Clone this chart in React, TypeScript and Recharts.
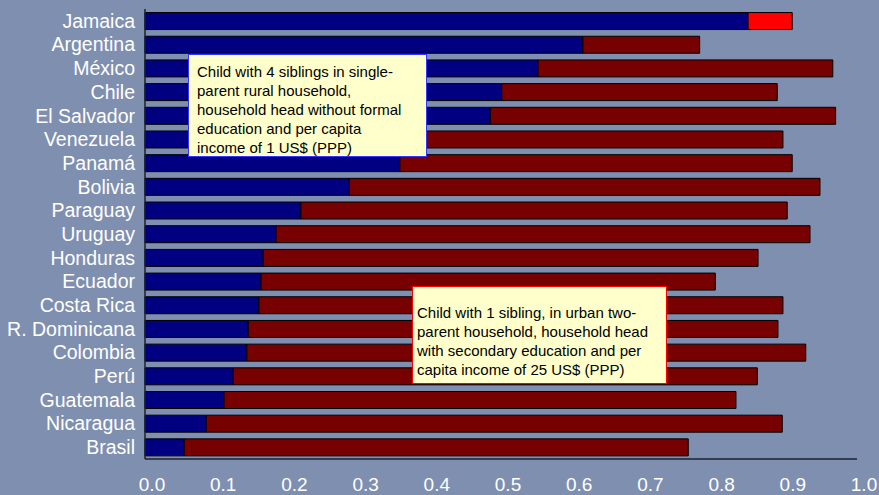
import { BarChart, Bar, XAxis, YAxis, Cell } from 'recharts';

const countries = [
  'Jamaica', 'Argentina', 'México', 'Chile', 'El Salvador', 'Venezuela', 'Panamá',
  'Bolivia', 'Paraguay', 'Uruguay', 'Honduras', 'Ecuador', 'Costa Rica',
  'R. Dominicana', 'Colombia', 'Perú', 'Guatemala', 'Nicaragua', 'Brasil',
];

// probability for the advantaged child (blue) and for the disadvantaged child (bar end)
const urbanValues = [
  0.847, 0.615, 0.552, 0.501, 0.485, 0.38, 0.358,
  0.287, 0.219, 0.184, 0.166, 0.163, 0.16,
  0.145, 0.143, 0.124, 0.111, 0.086, 0.055,
];
const ruralValues = [
  0.909, 0.779, 0.966, 0.888, 0.97, 0.896, 0.909,
  0.948, 0.902, 0.934, 0.861, 0.801, 0.896,
  0.889, 0.928, 0.86, 0.83, 0.895, 0.763,
];

const xTicks = [0, 0.1, 0.2, 0.3, 0.4, 0.5, 0.6, 0.7, 0.8, 0.9, 1.0];

const data = countries.map((name, i) => ({
  name,
  urban: urbanValues[i],
  gap: ruralValues[i] - urbanValues[i],
}));

const BG = '#7f8fb0';
const BLUE = '#000080';
const DARK_RED = '#770000';
const RED = '#ff0000';
const FONT = '"Liberation Sans", Arial, sans-serif';

const boxText = {
  position: 'absolute' as const,
  background: '#ffffcc',
  fontFamily: FONT,
  fontSize: 15,
  lineHeight: '19px',
  color: '#000',
  whiteSpace: 'nowrap' as const,
  boxSizing: 'border-box' as const,
};

export default function App() {
  return (
    <div
      style={{
        position: 'absolute',
        left: 0,
        top: 0,
        width: 879,
        height: 495,
        background: BG,
        overflow: 'hidden',
      }}
    >
      <BarChart
        width={879}
        height={495}
        data={data}
        layout="vertical"
        margin={{ top: 9, right: 22, left: 0, bottom: 0 }}
        barCategoryGap="15%"
      >
        <XAxis
          type="number"
          domain={[0, 1]}
          ticks={xTicks}
          tickFormatter={(v: number) => v.toFixed(1)}
          height={36}
          tickSize={0}
          tickMargin={19}
          dx={7}
          tick={{ fill: '#fff', fontSize: 19, fontFamily: FONT }}
          axisLine={{ stroke: '#1c2130', strokeWidth: 1.5 }}
          tickLine={false}
        />
        <YAxis
          type="category"
          dataKey="name"
          width={145}
          tickSize={0}
          tickMargin={10}
          interval={0}
          tick={{ fill: '#fff', fontSize: 19.5, fontFamily: FONT }}
          axisLine={{ stroke: '#1c2130', strokeWidth: 1.5 }}
          tickLine={false}
        />
        <Bar dataKey="urban" stackId="a" fill={BLUE} stroke="#000" strokeWidth={1} isAnimationActive={false} />
        <Bar dataKey="gap" stackId="a" fill={DARK_RED} stroke="#000" strokeWidth={1} isAnimationActive={false}>
          {data.map((entry, index) => (
            <Cell key={`cell-${index}`} fill={index === 0 ? RED : DARK_RED} />
          ))}
        </Bar>
      </BarChart>

      <div
        style={{
          ...boxText,
          left: 188,
          top: 54,
          width: 239,
          height: 103,
          border: '1px solid #3333ff',
          padding: '7px 0 0 8px',
        }}
      >
        <div>Child with 4 siblings in single-</div>
        <div>parent rural household,</div>
        <div>household head without formal</div>
        <div>education and per capita</div>
        <div>income of 1 US$ (PPP)</div>
      </div>

      <div
        style={{
          ...boxText,
          left: 412,
          top: 286,
          width: 255,
          height: 98,
          border: '1px solid #ff0000',
          padding: '16px 0 0 4px',
        }}
      >
        <div>Child with 1 sibling, in urban two-</div>
        <div>parent household, household head</div>
        <div>with secondary education and per</div>
        <div>capita income of 25 US$ (PPP)</div>
      </div>
    </div>
  );
}
